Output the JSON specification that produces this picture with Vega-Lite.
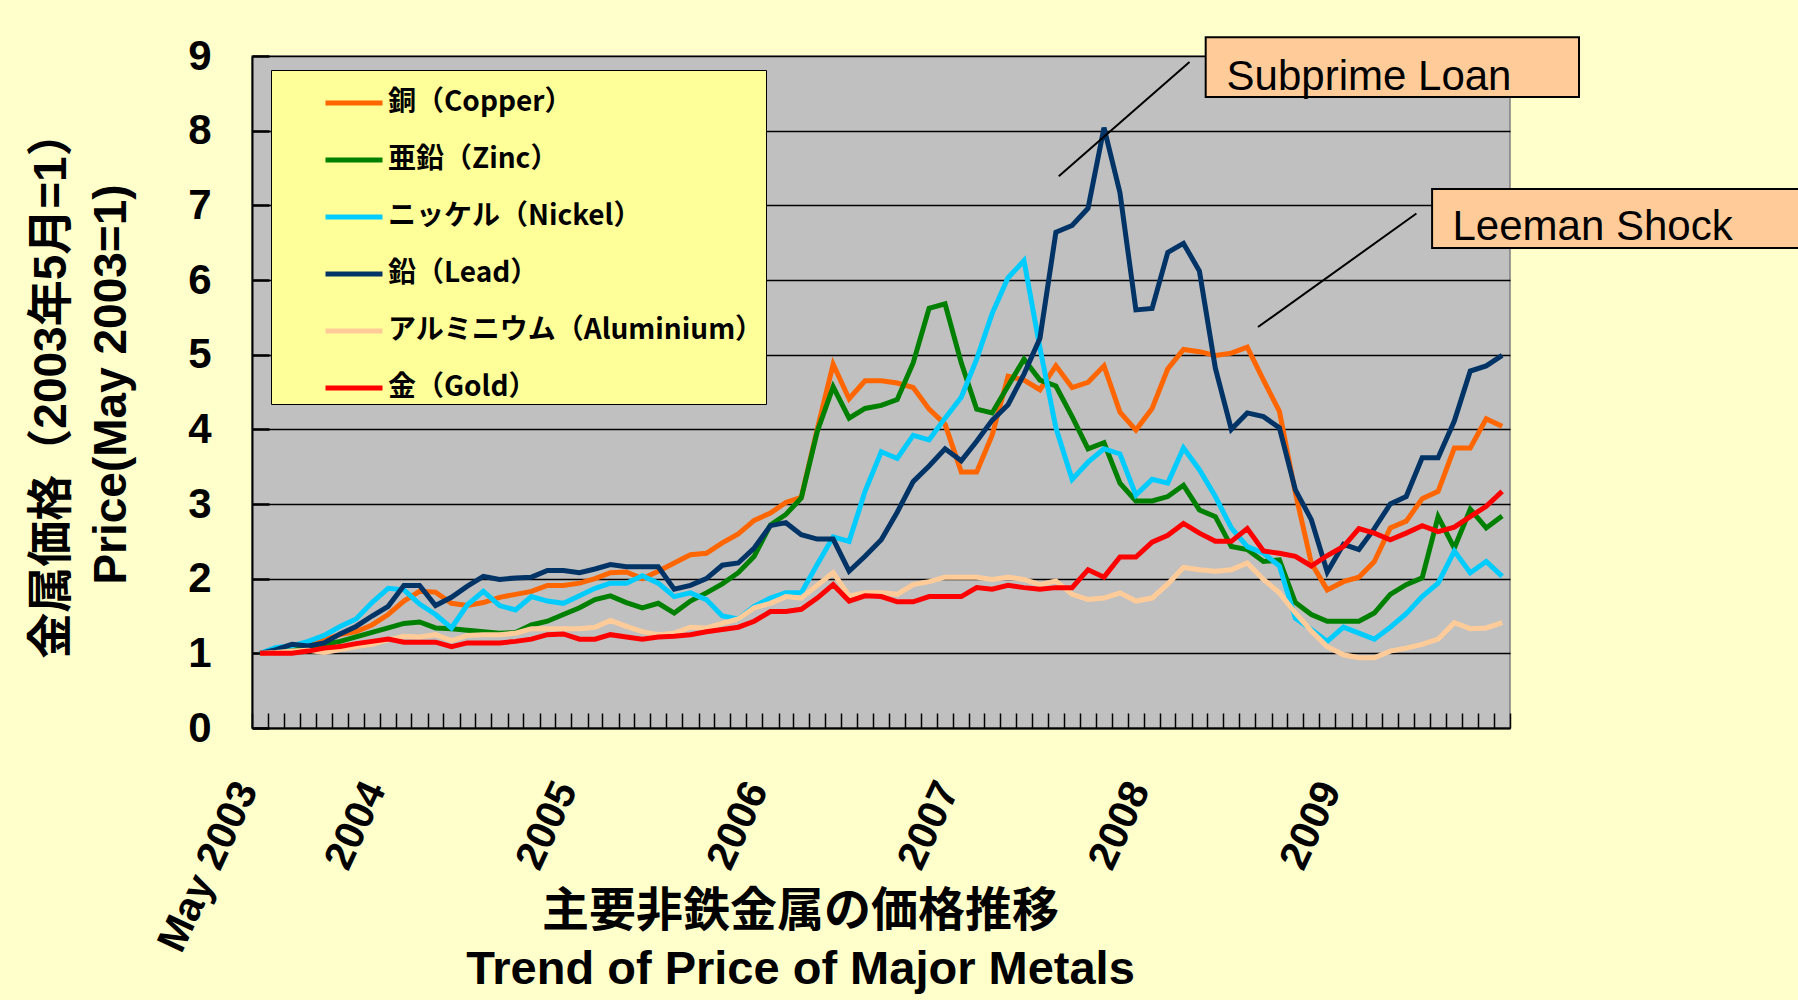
{
  "$schema": "https://vega.github.io/schema/vega-lite/v6.json",
  "width": 1258,
  "height": 672,
  "autosize": {"type": "none"},
  "padding": {"left": 252, "top": 56, "right": 288, "bottom": 272},
  "background": "#FFFFCC",
  "config": {
    "view": {"fill": "#C0C0C0", "stroke": "#808080", "strokeWidth": 1.5},
    "font": "Liberation Sans"
  },
  "datasets": {
    "prices": [
      {"month":"2003-05","Copper":1.00,"Zinc":1.00,"Nickel":1.00,"Lead":1.00,"Aluminium":1.00,"Gold":1.00},
      {"month":"2003-06","Copper":1.03,"Zinc":1.03,"Nickel":1.08,"Lead":1.05,"Aluminium":1.01,"Gold":1.00},
      {"month":"2003-07","Copper":1.07,"Zinc":1.05,"Nickel":1.10,"Lead":1.12,"Aluminium":1.03,"Gold":1.00},
      {"month":"2003-08","Copper":1.09,"Zinc":1.07,"Nickel":1.16,"Lead":1.10,"Aluminium":1.04,"Gold":1.03},
      {"month":"2003-09","Copper":1.18,"Zinc":1.12,"Nickel":1.24,"Lead":1.14,"Aluminium":1.01,"Gold":1.07},
      {"month":"2003-10","Copper":1.25,"Zinc":1.16,"Nickel":1.36,"Lead":1.26,"Aluminium":1.05,"Gold":1.09},
      {"month":"2003-11","Copper":1.29,"Zinc":1.22,"Nickel":1.46,"Lead":1.36,"Aluminium":1.09,"Gold":1.13},
      {"month":"2003-12","Copper":1.38,"Zinc":1.28,"Nickel":1.68,"Lead":1.50,"Aluminium":1.12,"Gold":1.16},
      {"month":"2004-01","Copper":1.52,"Zinc":1.34,"Nickel":1.87,"Lead":1.63,"Aluminium":1.18,"Gold":1.19},
      {"month":"2004-02","Copper":1.70,"Zinc":1.40,"Nickel":1.85,"Lead":1.91,"Aluminium":1.23,"Gold":1.15},
      {"month":"2004-03","Copper":1.83,"Zinc":1.42,"Nickel":1.66,"Lead":1.91,"Aluminium":1.22,"Gold":1.15},
      {"month":"2004-04","Copper":1.82,"Zinc":1.34,"Nickel":1.52,"Lead":1.64,"Aluminium":1.25,"Gold":1.15},
      {"month":"2004-05","Copper":1.67,"Zinc":1.33,"Nickel":1.34,"Lead":1.75,"Aluminium":1.17,"Gold":1.09},
      {"month":"2004-06","Copper":1.64,"Zinc":1.31,"Nickel":1.65,"Lead":1.90,"Aluminium":1.24,"Gold":1.14},
      {"month":"2004-07","Copper":1.68,"Zinc":1.29,"Nickel":1.83,"Lead":2.03,"Aluminium":1.25,"Gold":1.14},
      {"month":"2004-08","Copper":1.75,"Zinc":1.27,"Nickel":1.64,"Lead":1.99,"Aluminium":1.25,"Gold":1.14},
      {"month":"2004-09","Copper":1.79,"Zinc":1.28,"Nickel":1.58,"Lead":2.01,"Aluminium":1.27,"Gold":1.16},
      {"month":"2004-10","Copper":1.83,"Zinc":1.38,"Nickel":1.76,"Lead":2.02,"Aluminium":1.33,"Gold":1.19},
      {"month":"2004-11","Copper":1.91,"Zinc":1.43,"Nickel":1.70,"Lead":2.11,"Aluminium":1.33,"Gold":1.25},
      {"month":"2004-12","Copper":1.91,"Zinc":1.52,"Nickel":1.67,"Lead":2.11,"Aluminium":1.33,"Gold":1.26},
      {"month":"2005-01","Copper":1.94,"Zinc":1.61,"Nickel":1.77,"Lead":2.08,"Aluminium":1.33,"Gold":1.19},
      {"month":"2005-02","Copper":2.00,"Zinc":1.72,"Nickel":1.87,"Lead":2.13,"Aluminium":1.35,"Gold":1.19},
      {"month":"2005-03","Copper":2.08,"Zinc":1.77,"Nickel":1.94,"Lead":2.19,"Aluminium":1.44,"Gold":1.25},
      {"month":"2005-04","Copper":2.09,"Zinc":1.68,"Nickel":1.94,"Lead":2.16,"Aluminium":1.36,"Gold":1.22},
      {"month":"2005-05","Copper":2.00,"Zinc":1.61,"Nickel":2.04,"Lead":2.16,"Aluminium":1.29,"Gold":1.19},
      {"month":"2005-06","Copper":2.10,"Zinc":1.67,"Nickel":1.94,"Lead":2.16,"Aluminium":1.25,"Gold":1.22},
      {"month":"2005-07","Copper":2.21,"Zinc":1.54,"Nickel":1.76,"Lead":1.86,"Aluminium":1.27,"Gold":1.23},
      {"month":"2005-08","Copper":2.32,"Zinc":1.70,"Nickel":1.81,"Lead":1.91,"Aluminium":1.35,"Gold":1.25},
      {"month":"2005-09","Copper":2.34,"Zinc":1.81,"Nickel":1.72,"Lead":2.00,"Aluminium":1.34,"Gold":1.29},
      {"month":"2005-10","Copper":2.48,"Zinc":1.93,"Nickel":1.50,"Lead":2.18,"Aluminium":1.40,"Gold":1.32},
      {"month":"2005-11","Copper":2.60,"Zinc":2.08,"Nickel":1.46,"Lead":2.21,"Aluminium":1.46,"Gold":1.35},
      {"month":"2005-12","Copper":2.78,"Zinc":2.30,"Nickel":1.63,"Lead":2.41,"Aluminium":1.61,"Gold":1.43},
      {"month":"2006-01","Copper":2.88,"Zinc":2.72,"Nickel":1.74,"Lead":2.71,"Aluminium":1.67,"Gold":1.56},
      {"month":"2006-02","Copper":3.02,"Zinc":2.86,"Nickel":1.81,"Lead":2.75,"Aluminium":1.76,"Gold":1.56},
      {"month":"2006-03","Copper":3.09,"Zinc":3.08,"Nickel":1.81,"Lead":2.59,"Aluminium":1.74,"Gold":1.59},
      {"month":"2006-04","Copper":4.00,"Zinc":3.97,"Nickel":2.19,"Lead":2.53,"Aluminium":1.91,"Gold":1.74},
      {"month":"2006-05","Copper":4.87,"Zinc":4.57,"Nickel":2.56,"Lead":2.53,"Aluminium":2.08,"Gold":1.92},
      {"month":"2006-06","Copper":4.41,"Zinc":4.15,"Nickel":2.50,"Lead":2.10,"Aluminium":1.77,"Gold":1.70},
      {"month":"2006-07","Copper":4.65,"Zinc":4.28,"Nickel":3.17,"Lead":2.30,"Aluminium":1.81,"Gold":1.77},
      {"month":"2006-08","Copper":4.65,"Zinc":4.32,"Nickel":3.70,"Lead":2.52,"Aluminium":1.81,"Gold":1.76},
      {"month":"2006-09","Copper":4.62,"Zinc":4.40,"Nickel":3.61,"Lead":2.89,"Aluminium":1.79,"Gold":1.69},
      {"month":"2006-10","Copper":4.56,"Zinc":4.89,"Nickel":3.92,"Lead":3.30,"Aluminium":1.92,"Gold":1.69},
      {"month":"2006-11","Copper":4.27,"Zinc":5.62,"Nickel":3.86,"Lead":3.51,"Aluminium":1.96,"Gold":1.76},
      {"month":"2006-12","Copper":4.07,"Zinc":5.68,"Nickel":4.15,"Lead":3.74,"Aluminium":2.02,"Gold":1.76},
      {"month":"2007-01","Copper":3.43,"Zinc":4.89,"Nickel":4.43,"Lead":3.58,"Aluminium":2.02,"Gold":1.76},
      {"month":"2007-02","Copper":3.43,"Zinc":4.27,"Nickel":4.94,"Lead":3.84,"Aluminium":2.02,"Gold":1.88},
      {"month":"2007-03","Copper":3.92,"Zinc":4.22,"Nickel":5.55,"Lead":4.12,"Aluminium":1.99,"Gold":1.86},
      {"month":"2007-04","Copper":4.71,"Zinc":4.58,"Nickel":6.03,"Lead":4.33,"Aluminium":2.02,"Gold":1.91},
      {"month":"2007-05","Copper":4.66,"Zinc":4.94,"Nickel":6.26,"Lead":4.74,"Aluminium":1.99,"Gold":1.88},
      {"month":"2007-06","Copper":4.53,"Zinc":4.66,"Nickel":5.09,"Lead":5.22,"Aluminium":1.92,"Gold":1.86},
      {"month":"2007-07","Copper":4.85,"Zinc":4.58,"Nickel":4.02,"Lead":6.64,"Aluminium":1.97,"Gold":1.88},
      {"month":"2007-08","Copper":4.56,"Zinc":4.17,"Nickel":3.33,"Lead":6.73,"Aluminium":1.79,"Gold":1.88},
      {"month":"2007-09","Copper":4.63,"Zinc":3.74,"Nickel":3.56,"Lead":6.96,"Aluminium":1.72,"Gold":2.12},
      {"month":"2007-10","Copper":4.85,"Zinc":3.82,"Nickel":3.74,"Lead":8.04,"Aluminium":1.74,"Gold":2.02},
      {"month":"2007-11","Copper":4.23,"Zinc":3.28,"Nickel":3.67,"Lead":7.17,"Aluminium":1.81,"Gold":2.29},
      {"month":"2007-12","Copper":3.99,"Zinc":3.04,"Nickel":3.12,"Lead":5.60,"Aluminium":1.70,"Gold":2.29},
      {"month":"2008-01","Copper":4.28,"Zinc":3.04,"Nickel":3.33,"Lead":5.62,"Aluminium":1.74,"Gold":2.49},
      {"month":"2008-02","Copper":4.81,"Zinc":3.10,"Nickel":3.28,"Lead":6.37,"Aluminium":1.93,"Gold":2.58},
      {"month":"2008-03","Copper":5.07,"Zinc":3.25,"Nickel":3.75,"Lead":6.49,"Aluminium":2.15,"Gold":2.74},
      {"month":"2008-04","Copper":5.04,"Zinc":2.92,"Nickel":3.46,"Lead":6.12,"Aluminium":2.12,"Gold":2.61},
      {"month":"2008-05","Copper":4.99,"Zinc":2.83,"Nickel":3.10,"Lead":4.82,"Aluminium":2.10,"Gold":2.50},
      {"month":"2008-06","Copper":5.02,"Zinc":2.43,"Nickel":2.68,"Lead":4.00,"Aluminium":2.12,"Gold":2.50},
      {"month":"2008-07","Copper":5.10,"Zinc":2.39,"Nickel":2.43,"Lead":4.22,"Aluminium":2.21,"Gold":2.67},
      {"month":"2008-08","Copper":4.66,"Zinc":2.23,"Nickel":2.34,"Lead":4.17,"Aluminium":1.99,"Gold":2.37},
      {"month":"2008-09","Copper":4.24,"Zinc":2.25,"Nickel":2.17,"Lead":4.02,"Aluminium":1.81,"Gold":2.34},
      {"month":"2008-10","Copper":3.15,"Zinc":1.68,"Nickel":1.47,"Lead":3.19,"Aluminium":1.54,"Gold":2.30},
      {"month":"2008-11","Copper":2.21,"Zinc":1.52,"Nickel":1.32,"Lead":2.79,"Aluminium":1.30,"Gold":2.17},
      {"month":"2008-12","Copper":1.85,"Zinc":1.43,"Nickel":1.16,"Lead":2.09,"Aluminium":1.09,"Gold":2.31},
      {"month":"2009-01","Copper":1.96,"Zinc":1.43,"Nickel":1.35,"Lead":2.46,"Aluminium":0.98,"Gold":2.43},
      {"month":"2009-02","Copper":2.02,"Zinc":1.43,"Nickel":1.27,"Lead":2.39,"Aluminium":0.94,"Gold":2.67},
      {"month":"2009-03","Copper":2.23,"Zinc":1.54,"Nickel":1.19,"Lead":2.67,"Aluminium":0.94,"Gold":2.61},
      {"month":"2009-04","Copper":2.68,"Zinc":1.79,"Nickel":1.35,"Lead":3.00,"Aluminium":1.03,"Gold":2.52},
      {"month":"2009-05","Copper":2.77,"Zinc":1.92,"Nickel":1.53,"Lead":3.10,"Aluminium":1.07,"Gold":2.61},
      {"month":"2009-06","Copper":3.07,"Zinc":2.01,"Nickel":1.76,"Lead":3.62,"Aluminium":1.12,"Gold":2.71},
      {"month":"2009-07","Copper":3.17,"Zinc":2.83,"Nickel":1.94,"Lead":3.62,"Aluminium":1.19,"Gold":2.63},
      {"month":"2009-08","Copper":3.75,"Zinc":2.41,"Nickel":2.37,"Lead":4.11,"Aluminium":1.41,"Gold":2.69},
      {"month":"2009-09","Copper":3.75,"Zinc":2.93,"Nickel":2.08,"Lead":4.78,"Aluminium":1.33,"Gold":2.83},
      {"month":"2009-10","Copper":4.14,"Zinc":2.68,"Nickel":2.23,"Lead":4.85,"Aluminium":1.34,"Gold":2.97},
      {"month":"2009-11","Copper":4.04,"Zinc":2.84,"Nickel":2.03,"Lead":4.99,"Aluminium":1.41,"Gold":3.17}
    ],
    "callouts": [
      {"event":"Subprime Loan","from":"2007-07-22","fromLevel":7.39,"to":"2008-03-28","toLevel":8.92},
      {"event":"Leeman Shock","from":"2008-08-06","fromLevel":5.37,"to":"2009-06-05","toLevel":6.89}
    ],
    "notes": [
      {"event":"Subprime Loan","start":"2008-04-28","end":"2010-04-12","low":8.45,"high":9.25,"textAt":"2008-06-07","textLevel":8.55},
      {"event":"Leeman Shock","start":"2009-07-05","end":"2012-01-01","low":6.43,"high":7.22,"textAt":"2009-08-13","textLevel":6.53}
    ]
  },
  "layer": [
    {
      "data": {"name": "prices"},
      "transform": [{"fold": ["Copper","Zinc","Nickel","Lead","Aluminium","Gold"], "as": ["metal","value"]}],
      "mark": {"type": "line", "strokeWidth": 5},
      "encoding": {
        "x": {
          "field": "month", "type": "temporal", "timeUnit": "utcyearmonth", "bandPosition": 0.5,
          "scale": {"type": "utc", "domain": [{"year":2003,"month":5,"date":1,"utc":true},{"year":2009,"month":12,"date":1,"utc":true}]},
          "axis": {
            "title": ["主要非鉄金属の価格推移", "Trend of Price of Major Metals"],
            "titleFont": "Liberation Sans, Noto Sans CJK JP",
            "titleFontSize": 47, "titleFontWeight": "bold", "titleColor": "black",
            "titleLineHeight": 58, "titleX": 548, "titleY": 160, "titleAlign": "center", "titleBaseline": "top",
            "tickCount": {"interval": "month", "step": 1},
            "labelExpr": "utcmonth(datum.value) == 0 ? utcFormat(datum.value, '%Y') : (utcyear(datum.value) == 2003 && utcmonth(datum.value) == 4 ? 'May 2003' : '')",
            "labelAngle": -65, "labelAlign": "right", "labelBaseline": "middle",
            "labelFont": "Liberation Sans", "labelFontSize": 41, "labelFontWeight": "bold", "labelColor": "black",
            "labelOffset": -5, "labelPadding": 71, "labelLimit": 500, "labelOverlap": false, "labelBound": false, "labelFlush": false,
            "tickSize": -15, "tickColor": "black", "tickWidth": 1.5,
            "domainColor": "black", "domainWidth": 2, "grid": false
          }
        },
        "y": {
          "field": "value", "type": "quantitative",
          "scale": {"domain": [0, 9], "nice": false},
          "axis": {
            "title": ["金属価格（2003年5月=1）", "Price(May 2003=1)"],
            "titleFont": "Liberation Sans, Noto Sans CJK JP",
            "titleFontSize": 46, "titleFontWeight": "bold", "titleColor": "black",
            "titleLineHeight": 60, "titleAngle": 270, "titleX": -201, "titleY": 328, "titleAlign": "center", "titleBaseline": "middle",
            "values": [0,1,2,3,4,5,6,7,8,9], "format": "d",
            "labelFont": "Liberation Sans", "labelFontSize": 42, "labelFontWeight": "bold", "labelColor": "black", "labelPadding": 58,
            "tickSize": -17, "tickWidth": 2.5, "tickColor": "black",
            "domainColor": "black", "domainWidth": 2,
            "grid": true, "gridColor": "black", "gridWidth": 1.3, "gridOpacity": 1
          }
        },
        "color": {
          "field": "metal", "type": "nominal",
          "scale": {"domain": ["Copper","Zinc","Nickel","Lead","Aluminium","Gold"], "range": ["#FF6600","#008000","#00CCFF","#003366","#FFCC99","#FF0000"]},
          "legend": {
            "orient": "none", "legendX": 19, "legendY": 14, "title": null, "direction": "vertical",
            "fillColor": "#FFFF99", "strokeColor": "black", "padding": 2,
            "symbolType": "stroke", "symbolSize": 3249, "symbolStrokeWidth": 5, "symbolOffset": 50,
            "labelOffset": 3, "rowPadding": 12, "labelLimit": 800,
            "labelFont": "Noto Sans CJK JP", "labelFontSize": 28, "labelFontWeight": "bold", "labelColor": "black",
            "labelExpr": "datum.label == 'Copper' ? '銅（Copper）' : datum.label == 'Zinc' ? '亜鉛（Zinc）' : datum.label == 'Nickel' ? 'ニッケル（Nickel）' : datum.label == 'Lead' ? '鉛（Lead）' : datum.label == 'Aluminium' ? 'アルミニウム（Aluminium）' : '金（Gold）'"
          }
        }
      }
    },
    {
      "data": {"name": "callouts"},
      "mark": {"type": "rule", "color": "black", "strokeWidth": 2, "clip": false},
      "encoding": {
        "x": {"field": "from", "type": "temporal", "scale": {"type": "utc"}},
        "x2": {"field": "to"},
        "y": {"field": "fromLevel", "type": "quantitative"},
        "y2": {"field": "toLevel"}
      }
    },
    {
      "data": {"name": "notes"},
      "mark": {"type": "rect", "fill": "#FFCC99", "stroke": "black", "strokeWidth": 2, "clip": false},
      "encoding": {
        "x": {"field": "start", "type": "temporal", "scale": {"type": "utc"}},
        "x2": {"field": "end"},
        "y": {"field": "high", "type": "quantitative"},
        "y2": {"field": "low"}
      }
    },
    {
      "data": {"name": "notes"},
      "mark": {"type": "text", "font": "Liberation Sans", "fontSize": 42, "color": "black", "align": "left", "baseline": "alphabetic", "clip": false},
      "encoding": {
        "x": {"field": "textAt", "type": "temporal", "scale": {"type": "utc"}},
        "y": {"field": "textLevel", "type": "quantitative"},
        "text": {"field": "event"}
      }
    }
  ]
}
